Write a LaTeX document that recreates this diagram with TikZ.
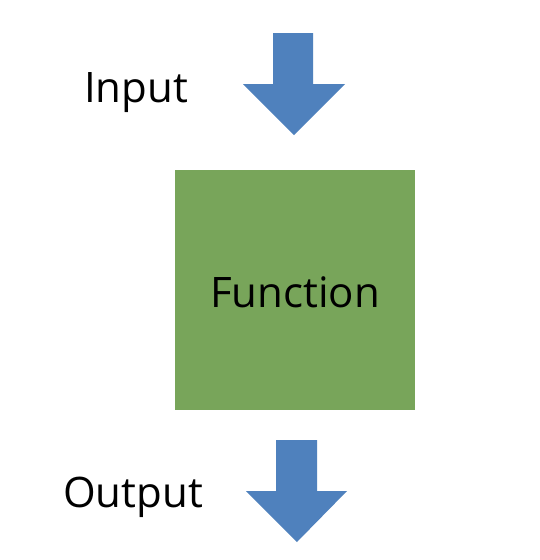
\documentclass[tikz,border=0pt]{standalone}
\usepackage{fontspec}
\setmainfont{Open Sans}
\begin{document}
\begin{tikzpicture}[x=1pt,y=-1pt,
  blockarrow/.style={fill=arrowblue,draw=none},
  label/.style={inner sep=0pt,anchor=base west,font=\fontsize{42}{50}\selectfont},
  funcbox/.style={fill=funcgreen,draw=none,minimum width=240pt,minimum height=240pt,inner sep=0pt,font=\fontsize{42}{50}\selectfont}]
\definecolor{arrowblue}{HTML}{4F81BD}
\definecolor{funcgreen}{HTML}{78A55A}
\useasboundingbox (0,0) rectangle (540,560);
\fill[white] (0,0) rectangle (540,560);
% input arrow
\fill[blockarrow] (273,33) -- (313,33) -- (313,84) -- (345,84) -- (294,135)
  -- (243,84) -- (273,84) -- cycle;
\node[label] (in) at (84,102) {Input};
% function block
\node[funcbox] (fn) at (295,290) {};
\node[inner sep=0pt,anchor=base,font=\fontsize{42}{50}\selectfont] (fnlabel) at (295,307) {Function};
% output arrow
\fill[blockarrow] (276,440) -- (317,440) -- (317,491) -- (347,491) -- (297,542)
  -- (246,491) -- (276,491) -- cycle;
\node[label] (out) at (63,507) {Output};
\end{tikzpicture}
\end{document}
